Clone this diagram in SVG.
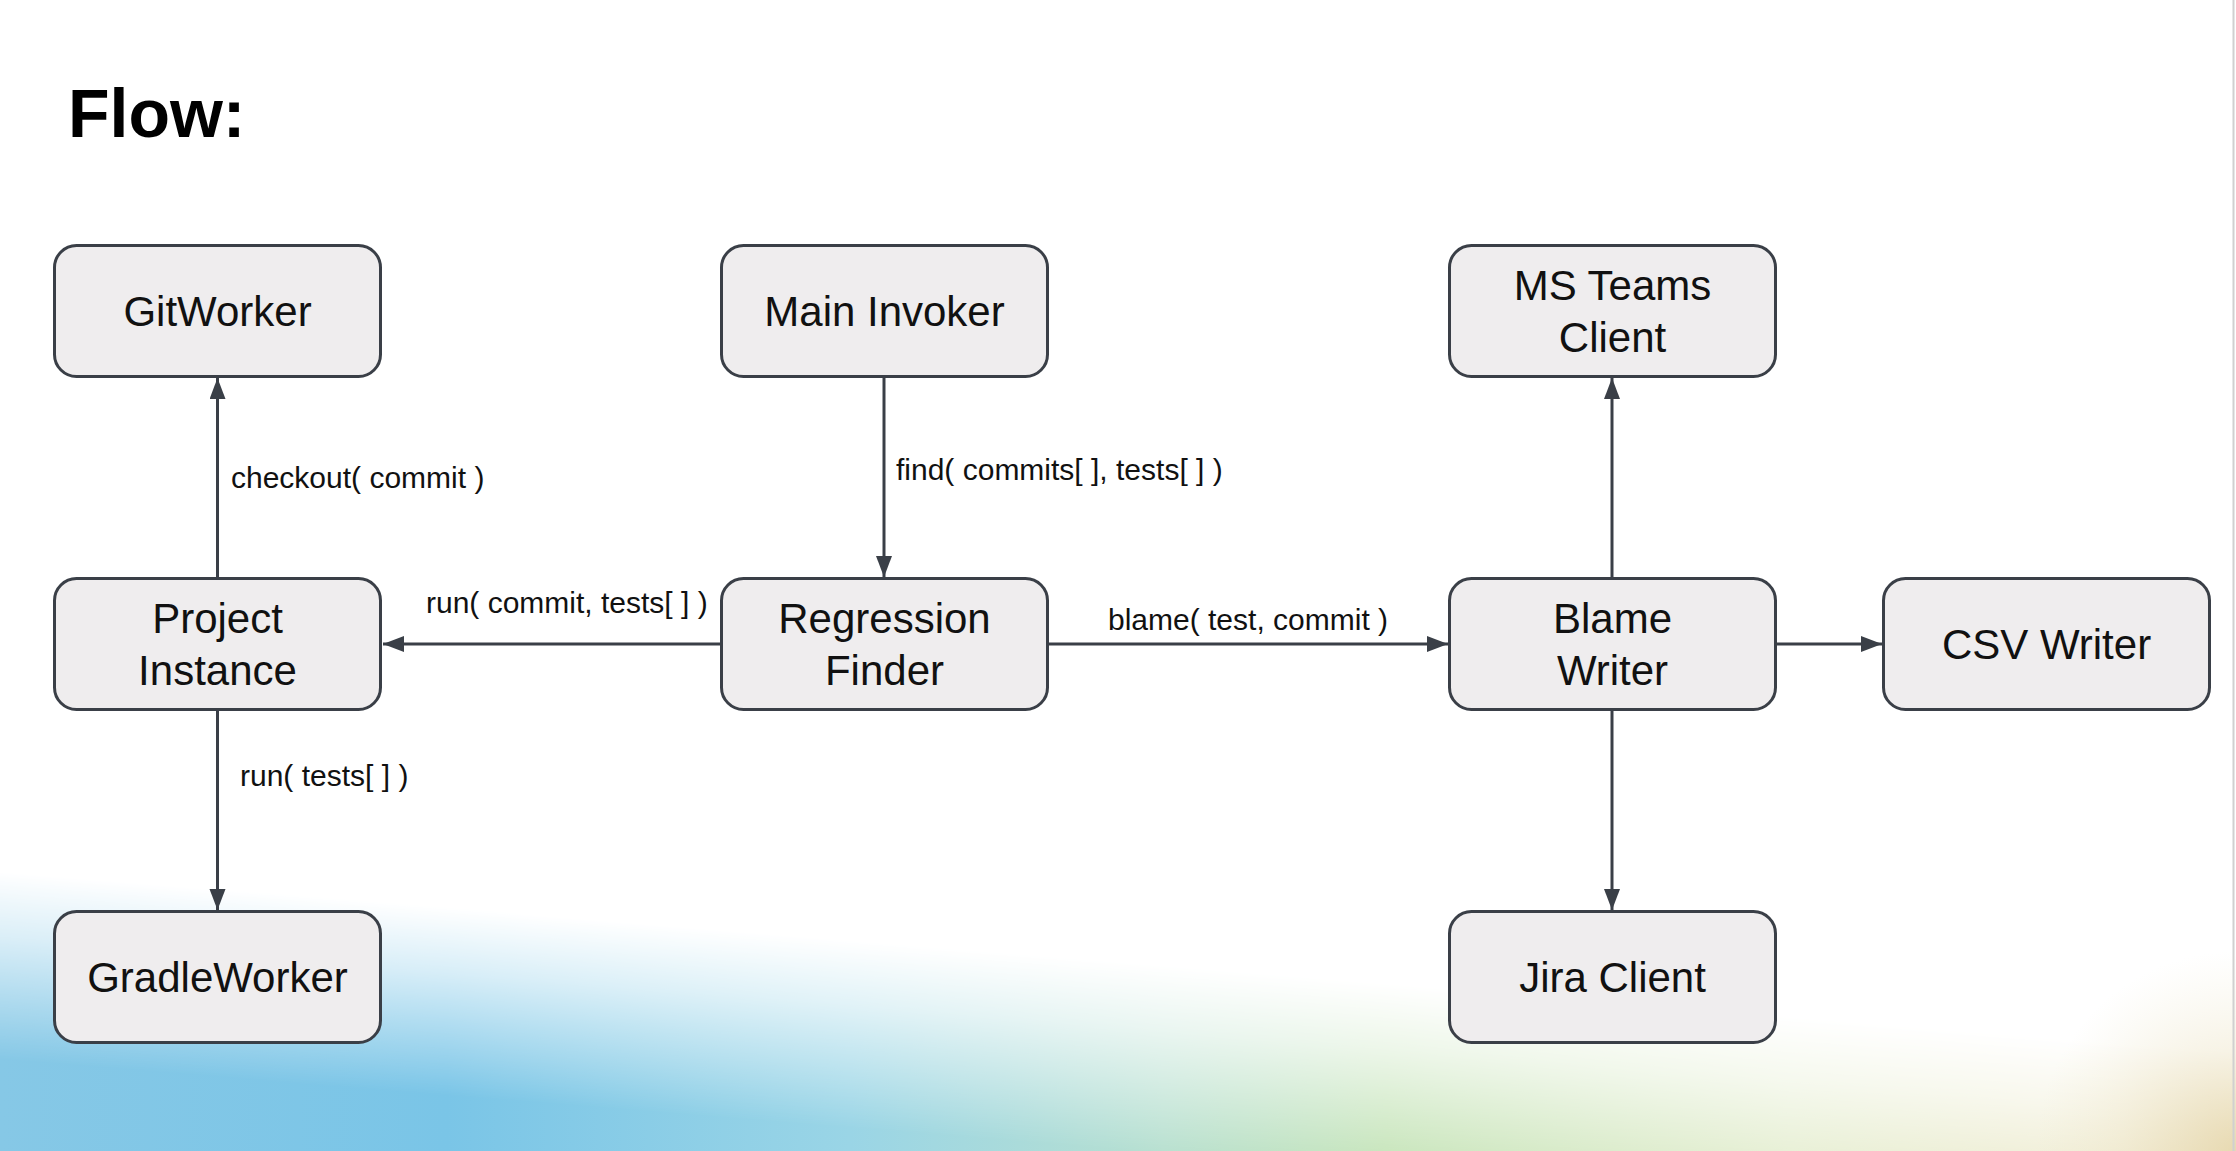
<svg xmlns="http://www.w3.org/2000/svg" width="2236" height="1151" viewBox="0 0 2236 1151">
  <style>
    .box { fill: #efedee; stroke: #3a3f47; stroke-width: 3; }
    .nt { font-family: "Liberation Sans", Arial, sans-serif; font-size: 42px; fill: #111; text-anchor: middle; }
    .lbl { font-family: "Liberation Sans", Arial, sans-serif; font-size: 30px; fill: #111; }
    .edge { stroke: #3a3f47; stroke-width: 3; fill: none; marker-end: url(#arr); }
    .title { font-family: "Liberation Sans", Arial, sans-serif; font-size: 68px; font-weight: bold; fill: #000; }
  </style>
  <defs>
    <marker id="arr" markerUnits="userSpaceOnUse" markerWidth="22" markerHeight="18" refX="21" refY="8" orient="auto">
      <path d="M0,0 L21,8 L0,16 z" fill="#3a3f47"/>
    </marker>
    <linearGradient id="bgcol" x1="0" y1="0" x2="1" y2="0">
      <stop offset="0" stop-color="#86c8e6"/>
      <stop offset="0.2" stop-color="#7ac5e7"/>
      <stop offset="0.38" stop-color="#9ad5e6"/>
      <stop offset="0.52" stop-color="#b8e0d0"/>
      <stop offset="0.62" stop-color="#c3e3b6"/>
      <stop offset="0.8" stop-color="#dfeac6"/>
      <stop offset="0.95" stop-color="#ebe4c0"/>
      <stop offset="1" stop-color="#e2d1a2"/>
    </linearGradient>
    <linearGradient id="fade" gradientUnits="userSpaceOnUse" x1="1100" y1="960" x2="1079" y2="1220">
      <stop offset="0" stop-color="#fff" stop-opacity="0"/>
      <stop offset="0.25" stop-color="#fff" stop-opacity="0.3"/>
      <stop offset="0.72" stop-color="#fff" stop-opacity="1"/>
    </linearGradient>
    <radialGradient id="corner" gradientUnits="userSpaceOnUse" cx="2236" cy="1151" r="200">
      <stop offset="0" stop-color="#e4d3a4" stop-opacity="0.7"/>
      <stop offset="1" stop-color="#ece6c8" stop-opacity="0"/>
    </radialGradient>
    <mask id="m">
      <rect x="0" y="700" width="2236" height="451" fill="url(#fade)"/>
    </mask>
  </defs>

  <rect x="0" y="0" width="2236" height="1151" fill="#ffffff"/>
  <rect x="0" y="700" width="2236" height="451" fill="url(#bgcol)" mask="url(#m)"/>
  <rect x="1900" y="900" width="336" height="251" fill="url(#corner)"/>
  <line x1="2233.5" y1="0" x2="2233.5" y2="1151" stroke="#d0d0d0" stroke-width="2"/>

  <text class="title" x="68" y="137">Flow:</text>

  <g id="connectors">
    <line class="edge" x1="217.5" y1="579" x2="217.5" y2="378"/>
    <line class="edge" x1="884" y1="377" x2="884" y2="577"/>
    <line class="edge" x1="721" y1="644" x2="383" y2="644"/>
    <line class="edge" x1="1047" y1="644" x2="1448" y2="644"/>
    <line class="edge" x1="217.5" y1="710" x2="217.5" y2="910"/>
    <line class="edge" x1="1612" y1="578" x2="1612" y2="378"/>
    <line class="edge" x1="1776" y1="644" x2="1882" y2="644"/>
    <line class="edge" x1="1612" y1="710" x2="1612" y2="910"/>
    <text class="lbl" x="231" y="488">checkout( commit )</text>
    <text class="lbl" x="896" y="480">find( commits[ ], tests[ ] )</text>
    <text class="lbl" x="426" y="613">run( commit, tests[ ] )</text>
    <text class="lbl" x="1108" y="630">blame( test, commit )</text>
    <text class="lbl" x="240" y="786">run( tests[ ] )</text>
  </g>

  <g id="gitworker">
    <rect class="box" x="54.5" y="245.5" width="326" height="131" rx="22"/>
    <text class="nt" x="217.5" y="326">GitWorker</text>
  </g>
  <g id="main-invoker">
    <rect class="box" x="721.5" y="245.5" width="326" height="131" rx="22"/>
    <text class="nt" x="884.5" y="326">Main Invoker</text>
  </g>
  <g id="ms-teams-client">
    <rect class="box" x="1449.5" y="245.5" width="326" height="131" rx="22"/>
    <text class="nt" x="1612.5" y="300">MS Teams</text>
    <text class="nt" x="1612.5" y="352">Client</text>
  </g>
  <g id="project-instance">
    <rect class="box" x="54.5" y="578.5" width="326" height="131" rx="22"/>
    <text class="nt" x="217.5" y="633">Project</text>
    <text class="nt" x="217.5" y="685">Instance</text>
  </g>
  <g id="regression-finder">
    <rect class="box" x="721.5" y="578.5" width="326" height="131" rx="22"/>
    <text class="nt" x="884.5" y="633">Regression</text>
    <text class="nt" x="884.5" y="685">Finder</text>
  </g>
  <g id="blame-writer">
    <rect class="box" x="1449.5" y="578.5" width="326" height="131" rx="22"/>
    <text class="nt" x="1612.5" y="633">Blame</text>
    <text class="nt" x="1612.5" y="685">Writer</text>
  </g>
  <g id="csv-writer">
    <rect class="box" x="1883.5" y="578.5" width="326" height="131" rx="22"/>
    <text class="nt" x="2046.5" y="659">CSV Writer</text>
  </g>
  <g id="gradleworker">
    <rect class="box" x="54.5" y="911.5" width="326" height="131" rx="22"/>
    <text class="nt" x="217.5" y="992">GradleWorker</text>
  </g>
  <g id="jira-client">
    <rect class="box" x="1449.5" y="911.5" width="326" height="131" rx="22"/>
    <text class="nt" x="1612.5" y="992">Jira Client</text>
  </g>
</svg>
